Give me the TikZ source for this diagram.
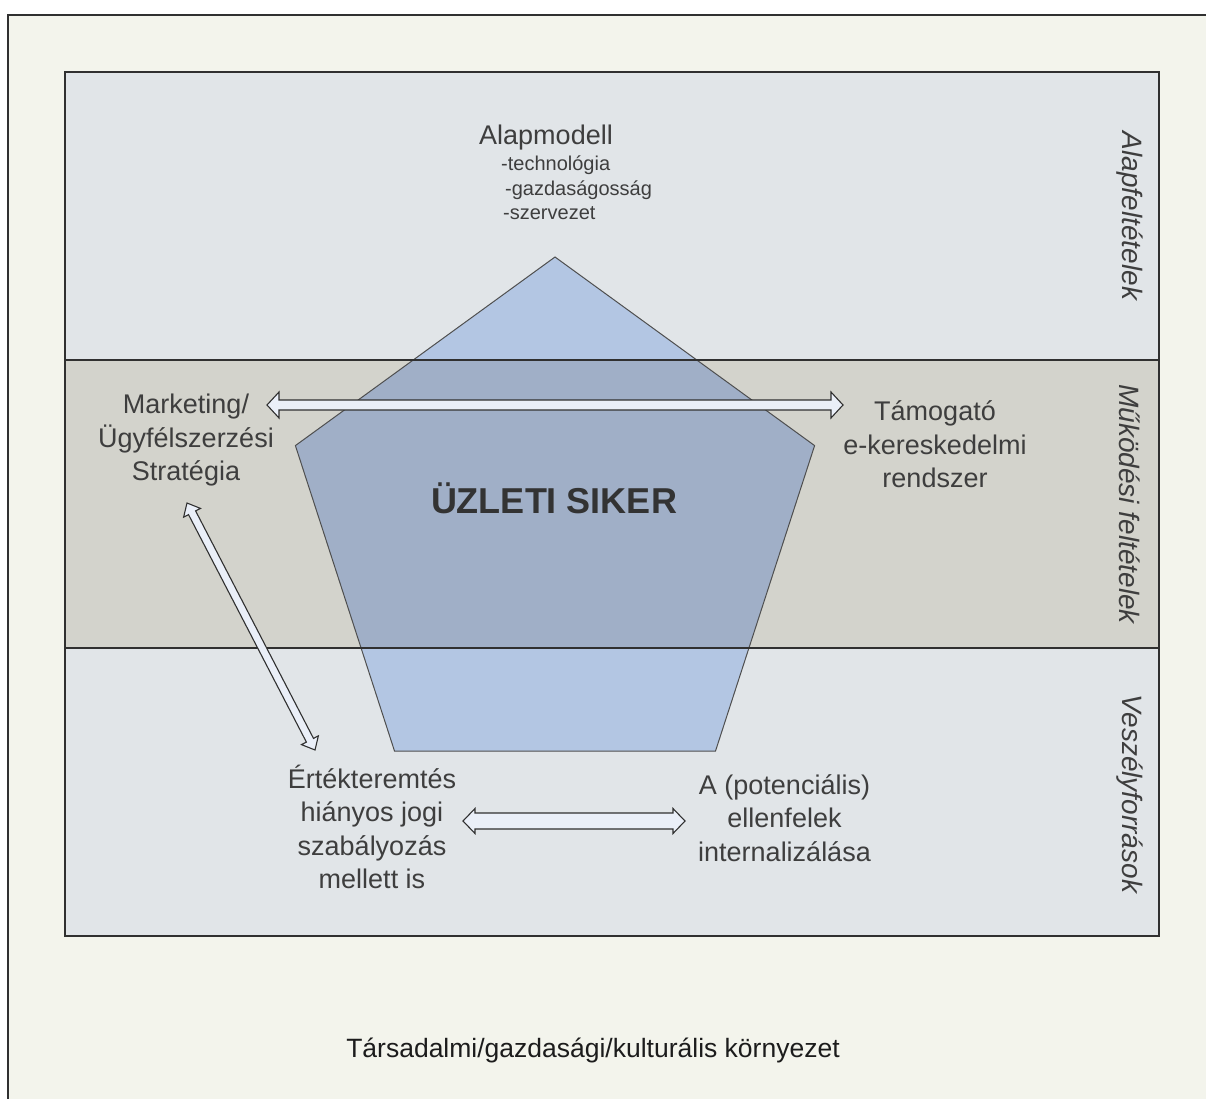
\documentclass[tikz,border=0pt]{standalone}
\usepackage{fontspec}
\setmainfont{Liberation Sans}
\usetikzlibrary{calc}
\definecolor{outerbg}{RGB}{243,244,236}
\definecolor{bandA}{RGB}{225,229,232}
\definecolor{bandB}{RGB}{211,211,204}
\definecolor{pentA}{RGB}{179,198,227}
\definecolor{pentB}{RGB}{160,175,199}
\definecolor{linec}{RGB}{48,48,48}
\definecolor{txt}{RGB}{62,62,62}
\definecolor{txtdark}{RGB}{28,28,28}
\definecolor{arrowfill}{RGB}{234,239,248}
\tikzset{
  framelines/.style={draw=linec, line width=1.6pt},
  seplines/.style={draw=linec, line width=2pt},
  pentline/.style={draw=linec!85, line width=1pt, line join=miter},
  lbl/.style={text=txt, align=center, inner sep=0pt, font=\fontsize{27}{33.5}\selectfont},
  sublbl/.style={text=txt, inner sep=0pt, anchor=base west, font=\fontsize{20}{24}\selectfont},
  sidelbl/.style={text=txt, inner sep=0pt, rotate=-90, font=\fontsize{28}{33}\selectfont\itshape},
  blockarrow/.style n args={3}{draw=linec, fill=arrowfill, line width=1.1pt, line join=miter,
    to path={
      -- ($(\tikztostart)!#1!(\tikztotarget)!#2!90:(\tikztotarget)$)
      -- ($(\tikztostart)!#1!(\tikztotarget)!#3!90:(\tikztotarget)$)
      -- ($(\tikztotarget)!#1!(\tikztostart)!#3!-90:(\tikztostart)$)
      -- ($(\tikztotarget)!#1!(\tikztostart)!#2!-90:(\tikztostart)$)
      -- (\tikztotarget)
      -- ($(\tikztotarget)!#1!(\tikztostart)!#2!90:(\tikztostart)$)
      -- ($(\tikztotarget)!#1!(\tikztostart)!#3!90:(\tikztostart)$)
      -- ($(\tikztostart)!#1!(\tikztotarget)!#3!-90:(\tikztotarget)$)
      -- ($(\tikztostart)!#1!(\tikztotarget)!#2!-90:(\tikztotarget)$)
      -- cycle}},
}
\begin{document}
\begin{tikzpicture}[x=1pt,y=-1pt]
\useasboundingbox (0,0) rectangle (1206,1099);
% outer environment
\fill[outerbg] (8,15) rectangle (1206,1099);
\draw[framelines] (8,1099) -- (8,15) -- (1206,15);
% bands
\fill[bandA] (65,72) rectangle (1159,360);
\fill[bandB] (65,360) rectangle (1159,648);
\fill[bandA] (65,648) rectangle (1159,936);
% pentagon
\coordinate (p1) at (555,257);
\coordinate (p2) at (814.6,445.6);
\coordinate (p3) at (715.5,751);
\coordinate (p4) at (394.5,751);
\coordinate (p5) at (295.4,445.6);
\begin{scope}
  \clip (p1) -- (p2) -- (p3) -- (p4) -- (p5) -- cycle;
  \fill[pentA] (65,72) rectangle (1159,936);
  \fill[pentB] (65,360) rectangle (1159,648);
\end{scope}
\draw[pentline] (p1) -- (p2) -- (p3) -- (p4) -- (p5) -- cycle;
% band separators and frame
\draw[seplines] (65,360) -- (1159,360);
\draw[seplines] (65,648) -- (1159,648);
\draw[framelines] (65,72) rectangle (1159,936);
% texts
\node[lbl, anchor=base] (alap) at (546,145) {Alapmodell};
\node[sublbl] (tech) at (501,171) {-technológia};
\node[sublbl] (gazd) at (505,196) {-gazdaságosság};
\node[sublbl] (szerv) at (503,220) {-szervezet};
\node[lbl] (mark) at (186,440.5) {Marketing/\\Ügyfélszerzési\\Stratégia};
\node[lbl] (tamog) at (935,444.5) {Támogató\\e-kereskedelmi\\rendszer};
\node[text=txtdark!90, inner sep=0pt, anchor=base, font=\fontsize{36}{40}\selectfont\bfseries] (siker) at (554,513) {ÜZLETI SIKER};
\node[lbl] (ertek) at (372,827) {Értékteremtés\\hiányos jogi\\szabályozás\\mellett is};
\node[lbl] (ellen) at (784.5,818) {A (potenciális)\\ellenfelek\\internalizálása};
\node[text=txtdark, inner sep=0pt, anchor=base, font=\fontsize{26.5}{30}\selectfont] (korny) at (593,1057) {Társadalmi/gazdasági/kulturális környezet};
\node[sidelbl] (s1) at (1130,216) {Alapfeltételek};
\node[sidelbl] (s2) at (1130,504) {Működési feltételek};
\node[sidelbl] (s3) at (1130,794) {Veszélyforrások};
% arrows
\coordinate (a1) at (267,405);
\coordinate (a2) at (843,405);
\coordinate (b1) at (187,503);
\coordinate (b2) at (315,750);
\coordinate (c1) at (463,821);
\coordinate (c2) at (685,821);
\draw[blockarrow={12pt}{13pt}{5pt}] (a1) to (a2);
\draw[blockarrow={11pt}{9.5pt}{4pt}] (b1) to (b2);
\draw[blockarrow={12pt}{12.5pt}{8pt}] (c1) to (c2);
\end{tikzpicture}
\end{document}
